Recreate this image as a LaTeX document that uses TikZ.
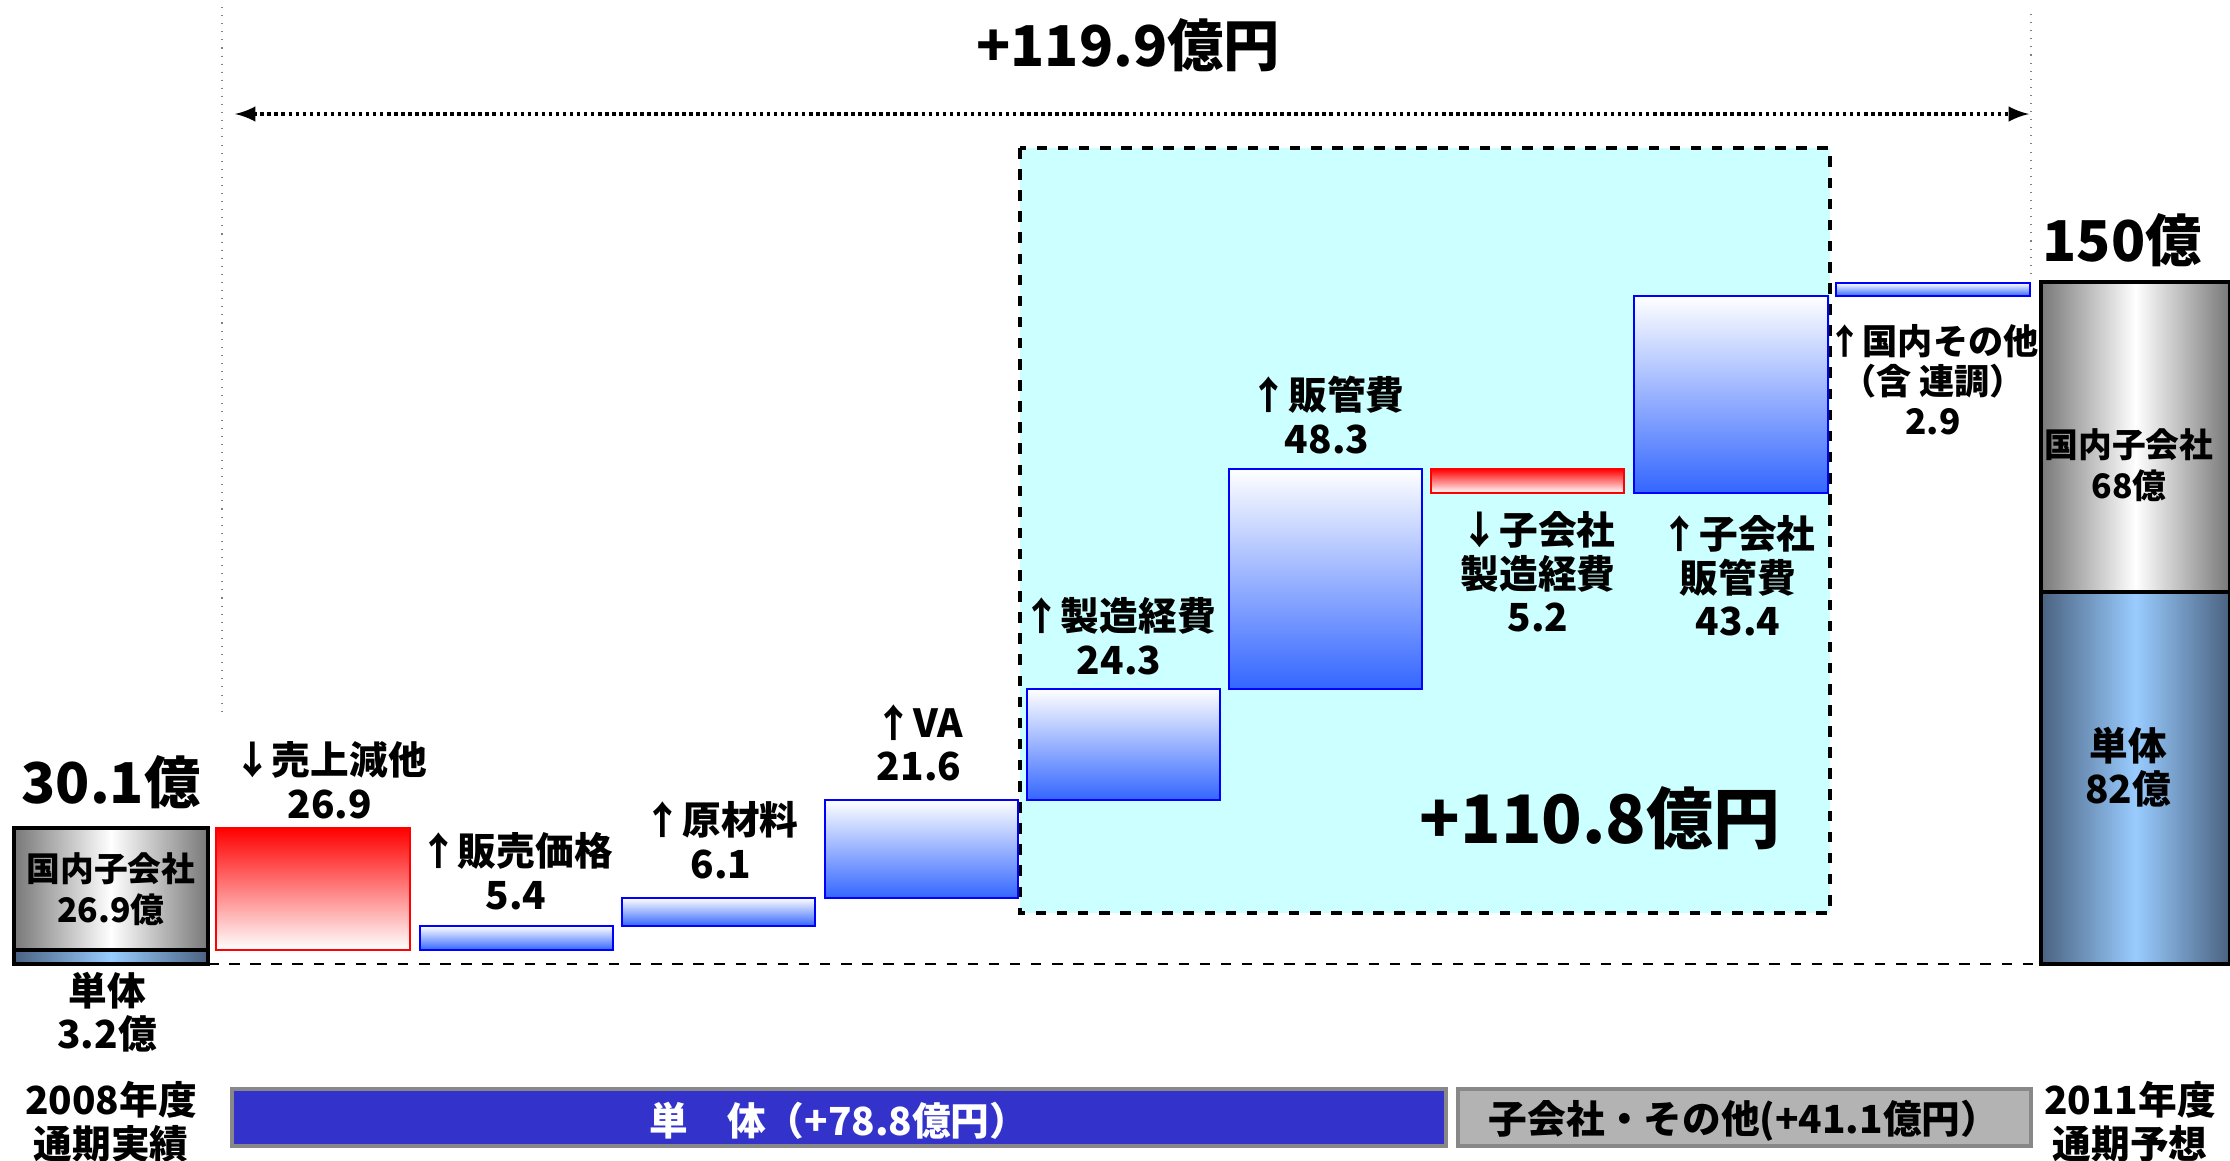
\documentclass[tikz,border=0pt]{standalone}
\usepackage{fontspec}
\setmainfont{Noto Sans CJK JP}
\usetikzlibrary{positioning}

\definecolor{gainblue}{RGB}{51,102,255}
\definecolor{solodark}{RGB}{74,98,128}
\definecolor{sololight}{RGB}{153,204,255}
\definecolor{subgray}{RGB}{120,120,120}
\definecolor{groupcyan}{RGB}{204,255,255}
\definecolor{soloband}{RGB}{51,51,204}
\definecolor{subband}{RGB}{179,179,179}
\definecolor{bandedge}{RGB}{136,136,136}

\tikzset{
  gainbar/.style={draw=blue, line width=0.6pt, top color=white, bottom color=gainblue},
  lossbar/.style={draw=red, line width=0.6pt, top color=red, bottom color=white},
  subshade/.style={draw=black, line width=0.9pt, left color=subgray, right color=subgray, middle color=white},
  soloshade/.style={draw=black, line width=0.9pt, left color=solodark, right color=solodark, middle color=sololight},
  valuelabel/.style={align=center, inner sep=0pt},
  stacklabel/.style={valuelabel, font=\bfseries\fontsize{9.6}{11.6}\selectfont},
  bigvalue/.style={inner sep=0pt, font=\bfseries\fontsize{16}{18}\selectfont},
  bandbox/.style={draw=bandedge, line width=0.9pt}
}

\begin{document}
\begin{tikzpicture}[x=0.01cm, y=-0.01cm, font=\bfseries\fontsize{11}{12.4}\selectfont]
    \useasboundingbox (0,0) rectangle (2230,1160);

    % whole span
    \draw[gray, dotted, line width=0.3pt] (222,7) -- (222,711);
    \draw[gray, dotted, line width=0.3pt] (2031,14) -- (2031,277);
    \coordinate (spanL) at (235,114);
    \coordinate (spanR) at (2029,114);
    \draw[latex-latex, densely dotted, line width=1pt] (spanL) -- (spanR);
    \node[bigvalue] (total) at (1128,45) {+119.9億円};

    % subsidiaries block
    \draw[fill=groupcyan, dashed, line width=0.9pt] (1020,148) rectangle (1830,913);
    \node[bigvalue, font=\bfseries\fontsize{19}{21}\selectfont] (subtotal) at (1600,818) {+110.8億円};

    % zero line
    \coordinate (zeroL) at (208,964);
    \coordinate (zeroR) at (2041,964);
    \draw[dashed, line width=0.6pt] (zeroL) -- (zeroR);

    % 2008
    \draw[subshade] (14,828) rectangle (208,950);
    \draw[soloshade] (14,950) rectangle (208,964);
    \node[bigvalue] (start) at (111,782) {30.1億};
    \node[stacklabel] (startsub) at (111,889) {国内子会社\\26.9億};
    \node[valuelabel] (startsolo) at (107,1012) {単体\\3.2億};

    % steps
    \draw[lossbar] (216,828) rectangle (410,950);
    \node[valuelabel] (sales) at (330,780) {↓売上減他\\26.9};

    \draw[gainbar] (420,926) rectangle (613,950);
    \node[valuelabel] (price) at (516,871) {↑販売価格\\5.4};

    \draw[gainbar] (622,898) rectangle (815,926);
    \node[valuelabel] (material) at (721,840) {↑原材料\\6.1};

    \draw[gainbar] (825,800) rectangle (1018,898);
    \node[valuelabel] (va) at (919,743) {↑VA\\21.6};

    \draw[gainbar] (1027,689) rectangle (1220,800);
    \node[valuelabel] (mfg) at (1119,636) {↑製造経費\\24.3};

    \draw[gainbar] (1229,469) rectangle (1422,689);
    \node[valuelabel] (sga) at (1327,415) {↑販管費\\48.3};

    \draw[lossbar] (1431,469) rectangle (1624,493);
    \node[valuelabel] (submfg) at (1538,572) {↓子会社\\製造経費\\5.2};

    \draw[gainbar] (1634,296) rectangle (1828,493);
    \node[valuelabel] (subsga) at (1738,576) {↑子会社\\販管費\\43.4};

    \draw[gainbar] (1836,283) rectangle (2030,296);
    \node[valuelabel, font=\bfseries\fontsize{10}{11.4}\selectfont] (other) at (1933,380) {↑国内その他\\（含 連調）\\2.9};

    % 2011
    \draw[subshade] (2041,282) rectangle (2230,592);
    \draw[soloshade] (2041,592) rectangle (2230,964);
    \node[bigvalue] (finish) at (2122,240) {150億};
    \node[stacklabel] (finishsub) at (2129,465) {国内子会社\\68億};
    \node[valuelabel] (finishsolo) at (2128,767) {単体\\82億};

    % bottom bands
    \node[valuelabel] (year0) at (111,1122) {2008年度\\通期実績};
    \node[valuelabel] (year1) at (2130,1122) {2011年度\\通期予想};
    \draw[bandbox, fill=soloband] (232,1089) rectangle (1446,1146);
    \node[text=white] (soloband) at (839,1121) {単　体（+78.8億円）};
    \draw[bandbox, fill=subband] (1458,1089) rectangle (2031,1146);
    \node (subband) at (1744,1121) {子会社・その他(+41.1億円）};
\end{tikzpicture}
\end{document}
